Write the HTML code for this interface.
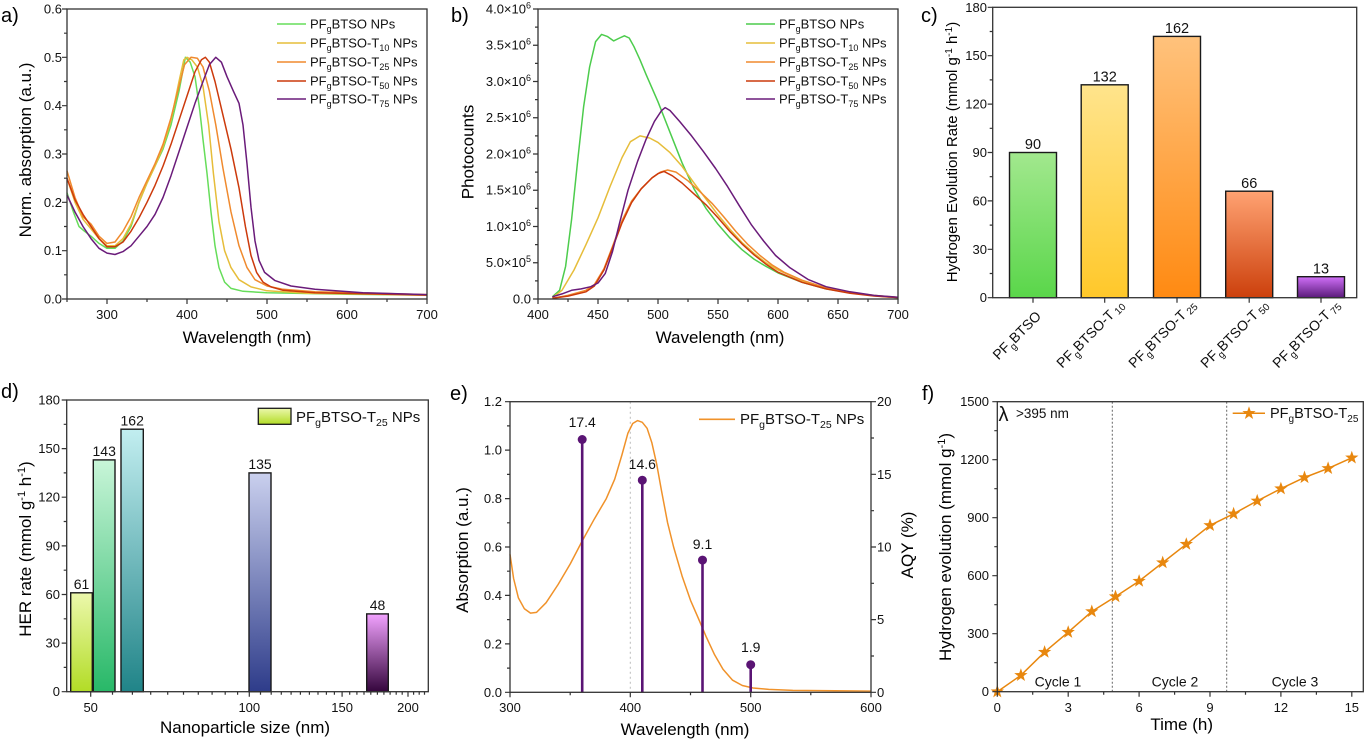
<!DOCTYPE html>
<html><head><meta charset="utf-8"><style>
html,body{margin:0;padding:0;background:#fff;}
svg{display:block;font-family:"Liberation Sans",Arial,sans-serif;}
</style></head><body>
<svg width="1367" height="743" viewBox="0 0 1367 743" xmlns="http://www.w3.org/2000/svg">
<defs>
<linearGradient id="c1" x1="0" y1="0" x2="0" y2="1"><stop offset="0" stop-color="#a2e88e"/><stop offset="1" stop-color="#5ad64a"/></linearGradient>
<linearGradient id="c2" x1="0" y1="0" x2="0" y2="1"><stop offset="0" stop-color="#ffe48c"/><stop offset="1" stop-color="#ffc82a"/></linearGradient>
<linearGradient id="c3" x1="0" y1="0" x2="0" y2="1"><stop offset="0" stop-color="#ffc27c"/><stop offset="1" stop-color="#ff8a12"/></linearGradient>
<linearGradient id="c4" x1="0" y1="0" x2="0" y2="1"><stop offset="0" stop-color="#ffa272"/><stop offset="1" stop-color="#cc400c"/></linearGradient>
<linearGradient id="c5" x1="0" y1="0" x2="0" y2="1"><stop offset="0" stop-color="#d070f8"/><stop offset="1" stop-color="#5a1a7a"/></linearGradient>
<linearGradient id="d1" x1="0" y1="0" x2="0" y2="1"><stop offset="0" stop-color="#ecf8ac"/><stop offset="1" stop-color="#b2dc26"/></linearGradient>
<linearGradient id="d2" x1="0" y1="0" x2="0" y2="1"><stop offset="0" stop-color="#c8f5d8"/><stop offset="1" stop-color="#28b868"/></linearGradient>
<linearGradient id="d3" x1="0" y1="0" x2="0" y2="1"><stop offset="0" stop-color="#c2eef0"/><stop offset="1" stop-color="#208488"/></linearGradient>
<linearGradient id="d4" x1="0" y1="0" x2="0" y2="1"><stop offset="0" stop-color="#cad0ee"/><stop offset="1" stop-color="#2e3c8a"/></linearGradient>
<linearGradient id="d5" x1="0" y1="0" x2="0" y2="1"><stop offset="0" stop-color="#f2a2ff"/><stop offset="1" stop-color="#34063c"/></linearGradient>
<path id="star" d="M0,-7 L1.65,-2.27 L6.66,-2.16 L2.66,0.87 L4.11,5.66 L0,2.8 L-4.11,5.66 L-2.66,0.87 L-6.66,-2.16 L-1.65,-2.27 Z"/>
</defs>

<!-- ================= PANEL A ================= -->
<text x="1" y="22" font-size="20">a)</text>
<g fill="none" stroke-width="1.5" stroke-linejoin="round">
<polyline stroke="#66dd5a" points="67,192.7 73.4,212 79,226.5 84.6,231.3 91,236.2 99,243.4 107,248.3 115,248.3 123,241 131,226.5 139,202.3 147,183 155,166 163,149.2 171,125 179,91.2 185.4,57.3 190.2,62.2 195,76.7 199.8,110.5 203,139.5 207,173.3 211,212 215,245.8 219,267.6 224.6,282.1 231,288.4 243,291.3 267,292.7 347,294.2 427,295.1"/>
<polyline stroke="#e6bd3a" points="67,178.2 75,202.3 83,219.3 91,228.9 99,238.6 107,245.8 115,245.8 123,238.6 131,224.1 139,202.3 147,183 155,166.1 163,146.8 171,120.2 179,81.5 183.8,59.8 187,57.3 191.8,59.8 197.4,67 203,86.3 208.6,125 213.4,173.3 219,221.7 224.6,250.7 231,267.6 239,279.7 251,286.9 267,290.8 307,293.2 427,295.1"/>
<polyline stroke="#f08a2e" points="67,170.9 75,197.5 83,216.8 91,224.1 99,236.2 107,243.4 115,242 123,231.3 131,216.8 139,197.5 147,180.6 155,163.7 163,144.3 171,117.8 179,86.3 184.6,64.6 191,57.3 197.4,58.3 203,67 209.4,91.2 215.8,125 223,168.5 231,212 239,245.8 247,267.6 255,279.7 267,286 283,289.3 315,291.7 427,294.6"/>
<polyline stroke="#cc3a0c" points="67,178.2 75,199.9 83,214.4 91,226.5 99,238.6 107,246.8 115,246.8 123,242 131,231.3 139,217.8 147,202.3 155,185.4 163,166.1 171,144.3 179,120.2 187,96 195,71.8 201.4,59.8 205.4,57.3 209.4,62.2 215,81.5 223,115.3 231,149.2 239,187.8 245.4,226.5 251,255.5 256.6,272.4 263,282.1 271,286.9 283,290.3 315,292.7 427,295.1"/>
<polyline stroke="#6a1b7a" points="67,195.1 75,212 83,226.5 91,238.6 99,248.3 107,253.1 115,254.5 123,251.6 131,245.8 139,236.2 147,226.5 155,214.4 163,197.5 171,175.7 179,151.6 187,127.4 195,103.3 203,81.5 209.4,64.6 215.8,57.3 221.4,62.2 227,76.7 233.4,91.2 239,103.3 243,125 247,163.7 251,207.2 255,241 259,260.3 264.6,272.4 275,280.6 291,286 315,289.3 363,292.7 427,294.6"/>
</g>
<rect x="67" y="9" width="360" height="290" fill="none" stroke="#333" stroke-width="1.3"/>
<path fill="none" stroke="#333" stroke-width="1.2" d="M67,299h-5 M67,250.7h-5 M67,202.3h-5 M67,154h-5 M67,105.7h-5 M67,57.3h-5 M67,9h-5 M67,274.8h-3 M67,226.5h-3 M67,178.2h-3 M67,129.8h-3 M67,81.5h-3 M67,33.2h-3 M107,299v5 M187,299v5 M267,299v5 M347,299v5 M427,299v5 M67,299v3 M147,299v3 M227,299v3 M307,299v3 M387,299v3"/>
<g font-size="13" text-anchor="end" fill="#111">
<text x="62" y="303.5">0.0</text><text x="62" y="255.2">0.1</text><text x="62" y="206.8">0.2</text><text x="62" y="158.5">0.3</text><text x="62" y="110.2">0.4</text><text x="62" y="61.8">0.5</text><text x="62" y="13.5">0.6</text>
</g>
<g font-size="13" text-anchor="middle" fill="#111">
<text x="107" y="319">300</text><text x="187" y="319">400</text><text x="267" y="319">500</text><text x="347" y="319">600</text><text x="427" y="319">700</text>
</g>
<text x="247" y="343" font-size="17" text-anchor="middle">Wavelength (nm)</text>
<text transform="translate(31,150) rotate(-90)" font-size="17" text-anchor="middle">Norm. absorption (a.u.)</text>
<g stroke-width="1.6">
<line x1="277" y1="24" x2="306" y2="24" stroke="#66dd5a"/>
<line x1="277" y1="43" x2="306" y2="43" stroke="#e6bd3a"/>
<line x1="277" y1="62" x2="306" y2="62" stroke="#f08a2e"/>
<line x1="277" y1="81" x2="306" y2="81" stroke="#cc3a0c"/>
<line x1="277" y1="99" x2="306" y2="99" stroke="#6a1b7a"/>
</g>
<g font-size="13" fill="#111">
<text x="310" y="28.5">PF<tspan dy="3.5" font-size="9">g</tspan><tspan dy="-3.5">BTSO NPs</tspan></text>
<text x="310" y="47.5">PF<tspan dy="3.5" font-size="9">g</tspan><tspan dy="-3.5">BTSO-T</tspan><tspan dy="3.5" font-size="9">10</tspan><tspan dy="-3.5"> NPs</tspan></text>
<text x="310" y="66.5">PF<tspan dy="3.5" font-size="9">g</tspan><tspan dy="-3.5">BTSO-T</tspan><tspan dy="3.5" font-size="9">25</tspan><tspan dy="-3.5"> NPs</tspan></text>
<text x="310" y="85.5">PF<tspan dy="3.5" font-size="9">g</tspan><tspan dy="-3.5">BTSO-T</tspan><tspan dy="3.5" font-size="9">50</tspan><tspan dy="-3.5"> NPs</tspan></text>
<text x="310" y="103.5">PF<tspan dy="3.5" font-size="9">g</tspan><tspan dy="-3.5">BTSO-T</tspan><tspan dy="3.5" font-size="9">75</tspan><tspan dy="-3.5"> NPs</tspan></text>
</g>

<!-- ================= PANEL B ================= -->
<text x="451" y="22" font-size="20">b)</text>
<g fill="none" stroke-width="1.5" stroke-linejoin="round">
<polyline stroke="#4ccc4c" points="552.4,296.8 559.6,290.3 565.6,266.4 571.6,219.3 577.6,161.3 583.6,106.9 589.6,67 595.6,41.6 601.6,34.4 607.6,36.6 613.6,40.9 619.6,38 624.4,35.8 629.2,38 634,46.7 640,59.8 646,74.3 658,101.8 670,132.3 682,162.7 694,188.8 706,208.4 718,224.3 730,238.1 742,249.7 754,259.1 766,266.4 778,272.9 802,282.3 826,288.9 850,292.8 874,295.7 898,297.6"/>
<polyline stroke="#e6bd3a" points="552.4,297.6 562,290.3 574,270 586,244.6 598,217.8 610,186.6 622,157.6 630.4,141.7 640,135.9 649.6,138 658,142.4 670,152.6 682,166.3 694,183 706,199 718,214.9 730,229.4 742,242.5 754,253.3 766,262.8 778,270 802,280.9 826,287.8 850,292.5 874,295.4 898,297.4"/>
<polyline stroke="#f08a2e" points="552.4,298.3 568,295.4 586,290.3 594.4,284.5 604,268.6 612.4,246.8 622,220.7 631.6,201.1 641.2,188.8 652,177.9 660.4,172.1 667.6,170 676,172.1 688,180.8 700,191.7 712,203.3 724,217.1 736,231.6 748,244.6 760,255.5 772,264.9 784,272.2 802,280.2 826,287.8 850,292.5 874,295.5 898,297.4"/>
<polyline stroke="#cc3a0c" points="552.4,298.3 568,296.1 586,291.8 594.4,286 604,270 612.4,248.3 622,222.9 631.6,202.6 641.2,188.8 652,177.9 658,173.6 664,171.4 672.4,175.8 682,183 694,193.9 706,204.8 718,217.8 730,231.6 742,243.9 754,254.8 766,264.2 778,272.2 802,282.3 826,288.9 850,293.2 874,296 898,297.6"/>
<polyline stroke="#6a1b7a" points="552.4,296.8 562,293.9 571.6,290.3 581.2,288.9 590.8,286.7 598,283 605.2,273.6 612.4,251.9 619.6,222.9 628,190.3 637.6,161.3 646,139.5 654.4,121.4 661.6,110.5 665.2,107.6 670,110.5 679.6,121.4 691.6,135.9 703.6,151.8 715.6,168.5 727.6,186.6 739.6,206.2 751.6,225.1 763.6,241 775.6,255.5 790,267.8 808,279.4 826,286.7 850,291.8 874,295.4 898,297.2"/>
</g>
<rect x="538" y="9" width="360" height="290" fill="none" stroke="#333" stroke-width="1.3"/>
<path fill="none" stroke="#333" stroke-width="1.2" d="M538,299h-5 M538,262.75h-5 M538,226.5h-5 M538,190.25h-5 M538,154h-5 M538,117.75h-5 M538,81.5h-5 M538,45.25h-5 M538,9h-5 M538,280.9h-3 M538,244.6h-3 M538,208.4h-3 M538,172.1h-3 M538,135.9h-3 M538,99.6h-3 M538,63.4h-3 M538,27.1h-3 M538,299v5 M598,299v5 M658,299v5 M718,299v5 M778,299v5 M838,299v5 M898,299v5 M568,299v3 M628,299v3 M688,299v3 M748,299v3 M808,299v3 M868,299v3"/>
<g font-size="13" text-anchor="end" fill="#111">
<text x="531" y="303.5">0.0</text>
<text x="531" y="267.2">5.0×10<tspan dy="-5" font-size="9">5</tspan></text>
<text x="531" y="231">1.0×10<tspan dy="-5" font-size="9">6</tspan></text>
<text x="531" y="194.7">1.5×10<tspan dy="-5" font-size="9">6</tspan></text>
<text x="531" y="158.5">2.0×10<tspan dy="-5" font-size="9">6</tspan></text>
<text x="531" y="122.2">2.5×10<tspan dy="-5" font-size="9">6</tspan></text>
<text x="531" y="86">3.0×10<tspan dy="-5" font-size="9">6</tspan></text>
<text x="531" y="49.7">3.5×10<tspan dy="-5" font-size="9">6</tspan></text>
<text x="531" y="13.5">4.0×10<tspan dy="-5" font-size="9">6</tspan></text>
</g>
<g font-size="13" text-anchor="middle" fill="#111">
<text x="538" y="319">400</text><text x="598" y="319">450</text><text x="658" y="319">500</text><text x="718" y="319">550</text><text x="778" y="319">600</text><text x="838" y="319">650</text><text x="898" y="319">700</text>
</g>
<text x="720" y="343" font-size="17" text-anchor="middle">Wavelength (nm)</text>
<text transform="translate(473.5,152) rotate(-90)" font-size="17" text-anchor="middle">Photocounts</text>
<g stroke-width="1.6">
<line x1="746" y1="24" x2="775" y2="24" stroke="#4ccc4c"/>
<line x1="746" y1="43" x2="775" y2="43" stroke="#e6bd3a"/>
<line x1="746" y1="62" x2="775" y2="62" stroke="#f08a2e"/>
<line x1="746" y1="81" x2="775" y2="81" stroke="#cc3a0c"/>
<line x1="746" y1="99" x2="775" y2="99" stroke="#6a1b7a"/>
</g>
<g font-size="13" fill="#111">
<text x="779" y="28.5">PF<tspan dy="3.5" font-size="9">g</tspan><tspan dy="-3.5">BTSO NPs</tspan></text>
<text x="779" y="47.5">PF<tspan dy="3.5" font-size="9">g</tspan><tspan dy="-3.5">BTSO-T</tspan><tspan dy="3.5" font-size="9">10</tspan><tspan dy="-3.5"> NPs</tspan></text>
<text x="779" y="66.5">PF<tspan dy="3.5" font-size="9">g</tspan><tspan dy="-3.5">BTSO-T</tspan><tspan dy="3.5" font-size="9">25</tspan><tspan dy="-3.5"> NPs</tspan></text>
<text x="779" y="85.5">PF<tspan dy="3.5" font-size="9">g</tspan><tspan dy="-3.5">BTSO-T</tspan><tspan dy="3.5" font-size="9">50</tspan><tspan dy="-3.5"> NPs</tspan></text>
<text x="779" y="103.5">PF<tspan dy="3.5" font-size="9">g</tspan><tspan dy="-3.5">BTSO-T</tspan><tspan dy="3.5" font-size="9">75</tspan><tspan dy="-3.5"> NPs</tspan></text>
</g>

<!-- ================= PANEL C ================= -->
<text x="921" y="22" font-size="20">c)</text>
<g stroke="#1a1a1a" stroke-width="1.4">
<rect x="1009.5" y="152.5" width="47" height="145.2" fill="url(#c1)"/>
<rect x="1081.2" y="84.8" width="47" height="212.9" fill="url(#c2)"/>
<rect x="1153.5" y="36.4" width="47" height="261.3" fill="url(#c3)"/>
<rect x="1225.7" y="191.2" width="47" height="106.5" fill="url(#c4)"/>
<rect x="1297.5" y="276.7" width="47" height="21" fill="url(#c5)"/>
</g>
<rect x="992.7" y="7.3" width="364" height="290.4" fill="none" stroke="#333" stroke-width="1.3"/>
<path fill="none" stroke="#333" stroke-width="1.2" d="M992.7,297.7h-5 M992.7,249.3h-5 M992.7,200.9h-5 M992.7,152.5h-5 M992.7,104.1h-5 M992.7,55.7h-5 M992.7,7.3h-5 M992.7,273.5h-3 M992.7,225.1h-3 M992.7,176.7h-3 M992.7,128.3h-3 M992.7,79.9h-3 M992.7,31.5h-3 M1033,297.7v5 M1104.7,297.7v5 M1177,297.7v5 M1249.2,297.7v5 M1321,297.7v5"/>
<g font-size="13" text-anchor="end" fill="#111">
<text x="987" y="302.2">0</text><text x="987" y="253.8">30</text><text x="987" y="205.4">60</text><text x="987" y="157">90</text><text x="987" y="108.6">120</text><text x="987" y="60.2">150</text><text x="987" y="11.8">180</text>
</g>
<g font-size="14.5" text-anchor="middle" fill="#111">
<text x="1033" y="149">90</text><text x="1104.7" y="81.5">132</text><text x="1177" y="33">162</text><text x="1249.2" y="188">66</text><text x="1321" y="273.5">13</text>
</g>
<text transform="translate(957,152) rotate(-90)" font-size="15" text-anchor="middle">Hydrogen Evolution Rate (mmol g<tspan dy="-5" font-size="10">-1</tspan><tspan dy="5"> h</tspan><tspan dy="-5" font-size="10">-1</tspan><tspan dy="5">)</tspan></text>
<g font-size="14" text-anchor="end" fill="#111">
<text transform="translate(1042,317) rotate(-45)">PF<tspan dy="4" font-size="10">g</tspan><tspan dy="-4">BTSO</tspan></text>
<text transform="translate(1125,306) rotate(-45)">PF<tspan dy="4" font-size="10">g</tspan><tspan dy="-4">BTSO-T</tspan><tspan dy="2" font-size="10"> 10</tspan></text>
<text transform="translate(1197,306) rotate(-45)">PF<tspan dy="4" font-size="10">g</tspan><tspan dy="-4">BTSO-T</tspan><tspan dy="2" font-size="10"> 25</tspan></text>
<text transform="translate(1269,306) rotate(-45)">PF<tspan dy="4" font-size="10">g</tspan><tspan dy="-4">BTSO-T</tspan><tspan dy="2" font-size="10"> 50</tspan></text>
<text transform="translate(1341,306) rotate(-45)">PF<tspan dy="4" font-size="10">g</tspan><tspan dy="-4">BTSO-T</tspan><tspan dy="2" font-size="10"> 75</tspan></text>
</g>

<!-- ================= PANEL D ================= -->
<text x="1" y="398" font-size="20">d)</text>
<g stroke="#1a1a1a" stroke-width="1.4">
<rect x="70.7" y="592.8" width="21.6" height="98.9" fill="url(#d1)"/>
<rect x="93.3" y="459.9" width="21.7" height="231.8" fill="url(#d2)"/>
<rect x="121" y="429.2" width="22.3" height="262.5" fill="url(#d3)"/>
<rect x="249" y="472.9" width="22" height="218.8" fill="url(#d4)"/>
<rect x="366.7" y="613.9" width="21.6" height="77.8" fill="url(#d5)"/>
</g>
<rect x="66.7" y="400" width="361.6" height="291.7" fill="none" stroke="#333" stroke-width="1.3"/>
<path fill="none" stroke="#333" stroke-width="1.2" d="M66.7,691.7h-5 M66.7,643.1h-5 M66.7,594.5h-5 M66.7,545.9h-5 M66.7,497.2h-5 M66.7,448.6h-5 M66.7,400h-5 M66.7,667.4h-3 M66.7,618.8h-3 M66.7,570.2h-3 M66.7,521.5h-3 M66.7,472.9h-3 M66.7,424.3h-3 M90.7,691.7v5 M249.3,691.7v5 M342.1,691.7v5 M408,691.7v5 M112.5,691.7v3 M132.4,691.7v3 M150.7,691.7v3 M167.7,691.7v3 M183.5,691.7v3 M198.3,691.7v3 M212.1,691.7v3 M225.2,691.7v3 M237.6,691.7v3 M260.5,691.7v3 M271.2,691.7v3 M281.3,691.7v3 M291.1,691.7v3 M300.4,691.7v3 M309.4,691.7v3 M318,691.7v3 M326.4,691.7v3 M334.4,691.7v3 M349.7,691.7v3 M356.9,691.7v3 M364,691.7v3 M370.8,691.7v3 M377.4,691.7v3 M383.9,691.7v3 M390.1,691.7v3 M396.2,691.7v3 M402.2,691.7v3 M413.6,691.7v3 M419.2,691.7v3 M424.5,691.7v3"/>
<g font-size="13" text-anchor="end" fill="#111">
<text x="60" y="696.2">0</text><text x="60" y="647.6">30</text><text x="60" y="599">60</text><text x="60" y="550.4">90</text><text x="60" y="501.7">120</text><text x="60" y="453.1">150</text><text x="60" y="404.5">180</text>
</g>
<g font-size="13" text-anchor="middle" fill="#111">
<text x="90.7" y="712">50</text><text x="249.3" y="712">100</text><text x="342.1" y="712">150</text><text x="408" y="712">200</text>
</g>
<g font-size="14" text-anchor="middle" fill="#111">
<text x="81.5" y="589">61</text><text x="104.2" y="456">143</text><text x="132.2" y="425.5">162</text><text x="260" y="469">135</text><text x="377.5" y="610">48</text>
</g>
<text x="245" y="733" font-size="17" text-anchor="middle">Nanoparticle size (nm)</text>
<text transform="translate(31,549) rotate(-90)" font-size="17" text-anchor="middle">HER rate (mmol g<tspan dy="-6" font-size="11">-1</tspan><tspan dy="6"> h</tspan><tspan dy="-6" font-size="11">-1</tspan><tspan dy="6">)</tspan></text>
<rect x="258.3" y="408.3" width="32.7" height="16" fill="url(#d1)" stroke="#1a1a1a" stroke-width="1.3"/>
<text x="296" y="422" font-size="15" fill="#111">PF<tspan dy="4" font-size="10.5">g</tspan><tspan dy="-4">BTSO-T</tspan><tspan dy="4" font-size="10.5">25</tspan><tspan dy="-4"> NPs</tspan></text>

<!-- ================= PANEL E ================= -->
<text x="450" y="400" font-size="20">e)</text>
<line x1="630.3" y1="401.7" x2="630.3" y2="692.3" stroke="#bbb" stroke-width="1" stroke-dasharray="2,3"/>
<polyline fill="none" stroke="#f0922a" stroke-width="1.5" stroke-linejoin="round" points="510,554.3 513.6,578.5 518.4,597.9 524.4,608.8 530.5,613.1 536.5,612.4 546.1,602.7 558.1,584.5 570.2,564 582.2,541 594.2,519.2 606.3,498.6 614.7,479.2 621.9,455 627.9,433.2 632.7,423.5 637.5,420.6 642.3,422.3 647.1,428.3 651.9,442.9 656.8,464.7 661.6,491.3 667.6,522.8 673.6,547 682.1,576.1 690.5,600.3 698.9,619.6 706.1,636.6 714.6,654.8 723,669.3 732.6,680.2 742.3,685.5 753.1,688 768.7,689.4 792.8,690.4 834.9,690.8 871,691.1"/>
<g stroke="#5a1474" stroke-width="2.6">
<line x1="582.2" y1="692.3" x2="582.2" y2="439.5"/>
<line x1="642.3" y1="692.3" x2="642.3" y2="480.2"/>
<line x1="702.5" y1="692.3" x2="702.5" y2="560.1"/>
<line x1="750.7" y1="692.3" x2="750.7" y2="664.7"/>
</g>
<g fill="#5a1474">
<circle cx="582.2" cy="439.5" r="4.5"/><circle cx="642.3" cy="480.2" r="4.5"/><circle cx="702.5" cy="560.1" r="4.5"/><circle cx="750.7" cy="664.7" r="4.5"/>
</g>
<g font-size="14" text-anchor="middle" fill="#111">
<text x="582.2" y="427">17.4</text><text x="642.3" y="469">14.6</text><text x="702.5" y="549">9.1</text><text x="750.7" y="652">1.9</text>
</g>
<rect x="510" y="401.7" width="361" height="290.6" fill="none" stroke="#333" stroke-width="1.3"/>
<path fill="none" stroke="#333" stroke-width="1.2" d="M510,692.3h-5 M510,643.9h-5 M510,595.4h-5 M510,547h-5 M510,498.6h-5 M510,450.1h-5 M510,401.7h-5 M510,668.1h-3 M510,619.6h-3 M510,571.2h-3 M510,522.8h-3 M510,474.4h-3 M510,425.9h-3 M871,692.3h5 M871,619.6h5 M871,547h5 M871,474.3h5 M871,401.7h5 M871,656h3 M871,583.3h3 M871,510.7h3 M871,438h3 M510,692.3v5 M630.3,692.3v5 M750.7,692.3v5 M871,692.3v5 M570.2,692.3v3 M690.5,692.3v3 M810.8,692.3v3"/>
<g font-size="13" text-anchor="end" fill="#111">
<text x="502" y="696.8">0.0</text><text x="502" y="648.4">0.2</text><text x="502" y="599.9">0.4</text><text x="502" y="551.5">0.6</text><text x="502" y="503.1">0.8</text><text x="502" y="454.6">1.0</text><text x="502" y="406.2">1.2</text>
</g>
<g font-size="13" fill="#111">
<text x="877" y="696.8">0</text><text x="877" y="624.1">5</text><text x="877" y="551.5">10</text><text x="877" y="478.8">15</text><text x="877" y="406.2">20</text>
</g>
<g font-size="13" text-anchor="middle" fill="#111">
<text x="510" y="712">300</text><text x="630.3" y="712">400</text><text x="750.7" y="712">500</text><text x="871" y="712">600</text>
</g>
<text x="685" y="735" font-size="17" text-anchor="middle">Wavelength (nm)</text>
<text transform="translate(468,550) rotate(-90)" font-size="17" text-anchor="middle">Absorption (a.u.)</text>
<text transform="translate(913,545) rotate(-90)" font-size="17" text-anchor="middle">AQY (%)</text>
<line x1="699" y1="419.3" x2="735" y2="419.3" stroke="#f0922a" stroke-width="1.6"/>
<text x="740" y="424" font-size="15" fill="#111">PF<tspan dy="4" font-size="10.5">g</tspan><tspan dy="-4">BTSO-T</tspan><tspan dy="4" font-size="10.5">25</tspan><tspan dy="-4"> NPs</tspan></text>

<!-- ================= PANEL F ================= -->
<text x="922" y="400" font-size="20">f)</text>
<g stroke="#666" stroke-width="1" stroke-dasharray="2,2">
<line x1="1112.3" y1="401.7" x2="1112.3" y2="691.7"/>
<line x1="1226.7" y1="401.7" x2="1226.7" y2="691.7"/>
</g>
<polyline fill="none" stroke="#e8870e" stroke-width="1.5" points="997.3,691.7 1020.9,675.3 1044.6,652.1 1068.2,632.2 1091.8,611.5 1115.5,596.6 1139.1,581.1 1162.7,562.6 1186.3,544.2 1210,525.4 1233.6,513.8 1257.2,500.9 1280.9,488.7 1304.5,477.5 1328.1,468.4 1351.8,457.8"/>
<g fill="#e8870e">
<use href="#star" x="997.3" y="691.7"/><use href="#star" x="1020.9" y="675.3"/><use href="#star" x="1044.6" y="652.1"/><use href="#star" x="1068.2" y="632.2"/><use href="#star" x="1091.8" y="611.5"/><use href="#star" x="1115.5" y="596.6"/><use href="#star" x="1139.1" y="581.1"/><use href="#star" x="1162.7" y="562.6"/><use href="#star" x="1186.3" y="544.2"/><use href="#star" x="1210" y="525.4"/><use href="#star" x="1233.6" y="513.8"/><use href="#star" x="1257.2" y="500.9"/><use href="#star" x="1280.9" y="488.7"/><use href="#star" x="1304.5" y="477.5"/><use href="#star" x="1328.1" y="468.4"/><use href="#star" x="1351.8" y="457.8"/>
<use href="#star" x="1249" y="413.3"/>
</g>
<rect x="997.3" y="401.7" width="366" height="290" fill="none" stroke="#333" stroke-width="1.3"/>
<path fill="none" stroke="#333" stroke-width="1.2" d="M997.3,691.7h-5 M997.3,633.7h-5 M997.3,575.7h-5 M997.3,517.7h-5 M997.3,459.7h-5 M997.3,401.7h-5 M997.3,662.7h-3 M997.3,604.7h-3 M997.3,546.7h-3 M997.3,488.7h-3 M997.3,430.7h-3 M997.3,691.7v5 M1068.2,691.7v5 M1139.1,691.7v5 M1210,691.7v5 M1280.9,691.7v5 M1351.8,691.7v5 M1032.7,691.7v3 M1103.7,691.7v3 M1174.6,691.7v3 M1245.5,691.7v3 M1316.4,691.7v3"/>
<g font-size="13" text-anchor="end" fill="#111">
<text x="989" y="696.2">0</text><text x="989" y="638.2">300</text><text x="989" y="580.2">600</text><text x="989" y="522.2">900</text><text x="989" y="464.2">1200</text><text x="989" y="406.2">1500</text>
</g>
<g font-size="13" text-anchor="middle" fill="#111">
<text x="997.3" y="712">0</text><text x="1068.2" y="712">3</text><text x="1139.1" y="712">6</text><text x="1210" y="712">9</text><text x="1280.9" y="712">12</text><text x="1351.8" y="712">15</text>
</g>
<text x="1181.7" y="730" font-size="17" text-anchor="middle">Time (h)</text>
<text transform="translate(951,547) rotate(-90)" font-size="17" text-anchor="middle">Hydrogen evolution (mmol g<tspan dy="-6" font-size="11">-1</tspan><tspan dy="6">)</tspan></text>
<text x="998.5" y="421" font-size="20" fill="#111">λ</text>
<text x="1016" y="418" font-size="13.5" fill="#111">&gt;395 nm</text>
<g font-size="14" text-anchor="middle" fill="#111">
<text x="1058" y="686.5">Cycle 1</text><text x="1175" y="686.5">Cycle 2</text><text x="1295" y="686.5">Cycle 3</text>
</g>
<line x1="1232.7" y1="413.3" x2="1265" y2="413.3" stroke="#e8870e" stroke-width="1.5"/>
<text x="1270" y="418" font-size="14.5" fill="#111">PF<tspan dy="4" font-size="10">g</tspan><tspan dy="-4">BTSO-T</tspan><tspan dy="4" font-size="10">25</tspan></text>
</svg>
</body></html>
